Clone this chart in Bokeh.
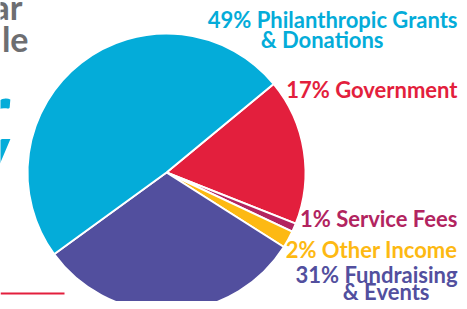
import math
from bokeh.plotting import figure
from bokeh.models import Range1d
from bokeh.core.properties import value
from bokeh.embed import file_html
from bokeh.resources import INLINE

# ---- data ----
categories = ["Government", "Service Fees", "Other Income",
              "Fundraising & Events", "Philanthropic Grants & Donations"]
percents = [17, 1, 2, 31, 49]
colors = ["#e31f3d", "#b2245f", "#fdb913", "#524f9e", "#04acd9"]
label_line1 = ["17% Government", "1% Service Fees", "2% Other Income",
               "31% Fundraising", "49% Philanthropic Grants"]
label_line2 = ["", "", "", "& Events", "& Donations"]

W, H = 459, 301
p = figure(width=W, height=H, x_range=Range1d(0, W), y_range=Range1d(0, H),
           output_backend="svg", toolbar_location=None, min_border=0)
p.axis.visible = False
p.grid.visible = False
p.outline_line_color = None
p.background_fill_color = "white"

TXT_SHIFT = 9  # empirical baseline correction for text placement


def X(x):
    return x


def Y(y):
    return H - y


def YT(y):
    return H - (y - TXT_SHIFT)


# ---- pie ----
cx, cy, r = X(166), Y(172), 139
offset = math.radians(39.6)
total = sum(percents)
starts, ends = [], []
cum = 0
for v in percents:
    starts.append(offset - cum / total * 2 * math.pi)
    cum += v
    ends.append(offset - cum / total * 2 * math.pi)

p.wedge(x=[cx] * len(percents), y=[cy] * len(percents), radius=r,
        start_angle=starts, end_angle=ends, direction="clock",
        fill_color=colors, line_color="white", line_width=2)

# ---- labels (right edge, baseline) ----
font = value("Lato")
fs = "22px"
line1_pos = [(457, 98), (457, 227), (457, 258), (457, 283), (457, 28)]
line2_pos = [None, None, None, (429, 300), (383, 48)]
for i in range(len(categories)):
    x1, y1 = line1_pos[i]
    p.text(x=[X(x1)], y=[YT(y1)], text=[label_line1[i]], text_color=colors[i],
           text_font=font, text_font_style="bold", text_font_size=fs,
           text_align="right", text_baseline="alphabetic")
    if label_line2[i]:
        x2, y2 = line2_pos[i]
        p.text(x=[X(x2)], y=[YT(y2)], text=[label_line2[i]], text_color=colors[i],
               text_font=font, text_font_style="bold", text_font_size=fs,
               text_align="right", text_baseline="alphabetic")

# ---- cropped heading fragments at the left edge ----
p.text(x=[X(22)], y=[YT(15)], text=["ar"], text_color="#6d6e71",
       text_font=font, text_font_style="bold", text_font_size="34px",
       text_align="right", text_baseline="alphabetic")
p.text(x=[X(28)], y=[YT(47)], text=["le"], text_color="#6d6e71",
       text_font=font, text_font_style="bold", text_font_size="34px",
       text_align="right", text_baseline="alphabetic")
p.text(x=[X(10)], y=[YT(117)], text=["r"], text_color="#04acd9",
       text_font=font, text_font_style="bold", text_font_size="80px",
       text_align="right", text_baseline="alphabetic")
p.text(x=[X(10)], y=[YT(157)], text=["y"], text_color="#04acd9",
       text_font=font, text_font_style="bold", text_font_size="80px",
       text_align="right", text_baseline="alphabetic")
p.segment(x0=[X(0)], y0=[Y(293)], x1=[X(64)], y1=[Y(293)],
          line_color="#e31f3d", line_width=2)

open("out.html", "w").write(file_html(p, INLINE))
